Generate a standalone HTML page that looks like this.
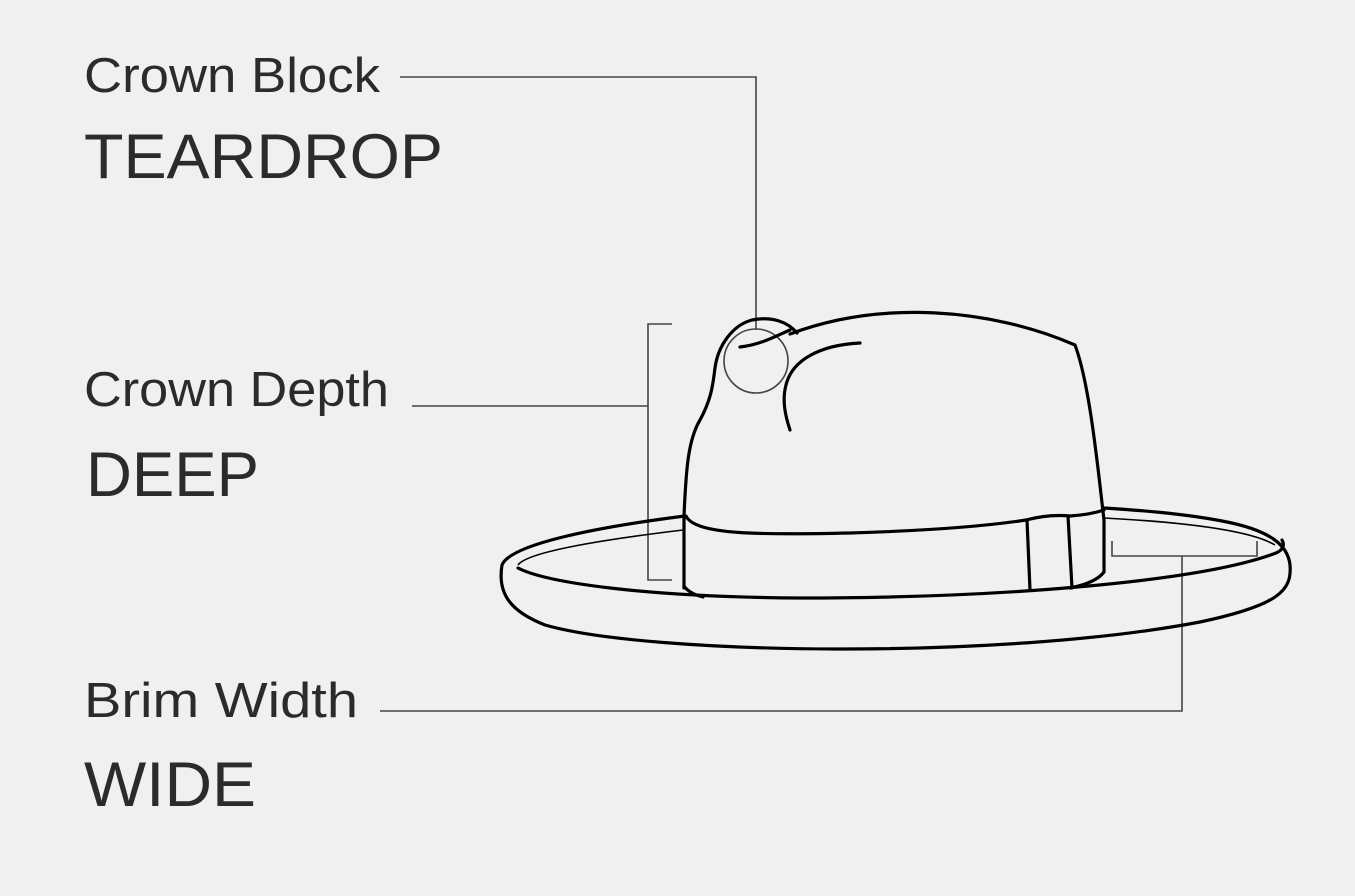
<!DOCTYPE html>
<html><head><meta charset="utf-8"><style>
html,body{margin:0;padding:0;background:#f0f0f0;}
svg{display:block;}
text{font-family:"Liberation Sans",Arial,sans-serif;fill:#2a2c2c;}
</style></head><body>
<svg width="1355" height="896" viewBox="0 0 1355 896" xmlns="http://www.w3.org/2000/svg">
<rect width="1355" height="896" fill="#f0f0f0"/>
<text x="84" y="92" font-size="49" textLength="296" lengthAdjust="spacingAndGlyphs">Crown Block</text>
<text x="84" y="178" font-size="63" textLength="359" lengthAdjust="spacingAndGlyphs">TEARDROP</text>
<text x="84" y="406" font-size="49" textLength="305" lengthAdjust="spacingAndGlyphs">Crown Depth</text>
<text x="86" y="496" font-size="63" textLength="173" lengthAdjust="spacingAndGlyphs">DEEP</text>
<text x="84" y="717" font-size="49" textLength="274" lengthAdjust="spacingAndGlyphs">Brim  Width</text>
<text x="84" y="806" font-size="63" textLength="172" lengthAdjust="spacingAndGlyphs">WIDE</text>

<g fill="none" stroke="#444" stroke-width="1.6">
<polyline points="400,77 756,77 756,330"/>
<polyline points="412,406 648,406"/>
<polyline points="672,324 648,324 648,580 672,580"/>
<polyline points="380,711 1182,711 1182,556"/>
<polyline points="1112,541 1112,556 1257,556 1257,541"/>
<circle cx="756" cy="361" r="32"/>
</g>

<g fill="none" stroke="#000" stroke-width="3.2" stroke-linecap="round" stroke-linejoin="round">
<!-- outer brim -->
<path d="M685,516 C590,528 510,545 502,565 C497,595 512,612 545,625 C650,655 1000,660 1200,622 C1280,605 1292,590 1290,565 C1288,545 1270,530 1222,521 C1180,513 1135,510 1104,508"/>
<!-- front rim edge -->
<path d="M518,568 C545,582 640,597 800,598 C1000,598 1200,582 1276,553 C1283,550 1285,545 1282,540"/>
<!-- crown left -->
<path d="M684,588 L684,516 C686,470 688,440 700,420 C712,398 713,383 715,368 C718,345 733,325 752,320 C772,316 788,322 797,333"/>
<!-- crown top -->
<path d="M790,334 C880,300 990,308 1075,345 C1090,385 1098,470 1104,520 L1104,572 C1098,580 1085,585 1070,588"/>
<!-- band top -->
<path d="M686,516 C695,535 760,535 850,533 C950,530 1000,524 1026,520 C1045,515 1060,515 1070,516 C1085,515 1095,513 1104,510"/>
<!-- band bottom left -->
<path d="M684,586 C688,592 695,595 703,597"/>
<!-- bow lines -->
<path d="M1027,520 L1030,590"/>
<path d="M1068,516 L1072,588"/>
<!-- creases -->
<path d="M740,347 C760,345 776,336 790,330"/>
<path d="M860,343 C820,345 792,360 786,385 C782,400 785,415 790,430"/>
</g>
<g fill="none" stroke="#000" stroke-width="1.6">
<path d="M683,530 C600,540 527,552 518,565"/>
<path d="M1104,518 C1180,522 1250,530 1275,545"/>
</g>
</svg>
</body></html>
